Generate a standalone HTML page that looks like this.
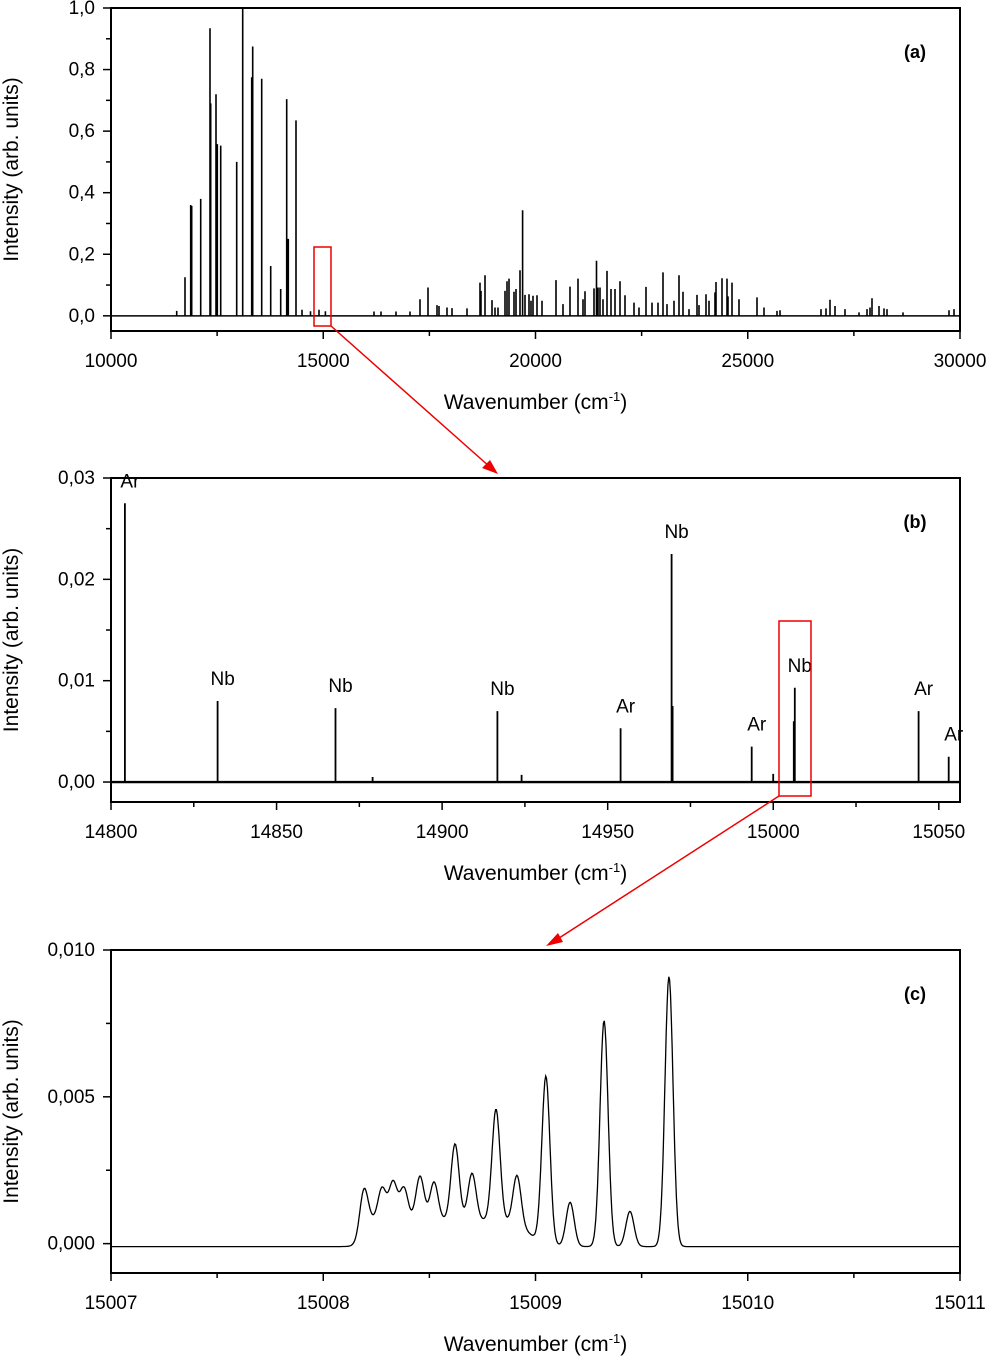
<!DOCTYPE html>
<html><head><meta charset="utf-8"><style>
body{margin:0;background:#fff}
svg{display:block;font-family:"Liberation Sans",sans-serif}
</style></head><body>
<svg id="c" width="988" height="1357" viewBox="0 0 988 1357" xmlns="http://www.w3.org/2000/svg"></svg>
<script>
// Panel (a) lines
const aPos=[11548,11743,11877,11901,12113,12332,12348,12473,12504,12584,12961,13102,13315,13338,13550,13762,13998,14139,14177,14358,14500,14700,14900,15050,
16195,16360,16714,17044,17279,17468,17680,17727,17915,18033,18386,18692,18716,18810,18975,19046,19117,19281,19328,19376,19493,19540,19635,19696,19753,19847,19894,19941,20035,20153,20483,20648,20813,21001,21119,21166,21378,21437,21472,21519,21590,21684,21779,21873,21991,22108,22320,22438,22603,22745,22886,23004,23098,23263,23381,23475,23617,23805,23852,24017,24088,24228,24252,24393,24511,24535,24629,24794,25218,25383,25689,25759,26725,26843,26937,27055,27291,27621,27809,27880,27927,28092,28210,28281,28657,29741,29859];
const aInt=[0.016,0.125,0.36,0.357,0.38,0.934,0.69,0.72,0.558,0.553,0.50,1.0,0.775,0.875,0.77,0.162,0.087,0.704,0.25,0.635,0.02,0.015,0.02,0.015,
0.014,0.014,0.014,0.014,0.054,0.092,0.035,0.032,0.027,0.025,0.024,0.108,0.081,0.132,0.051,0.027,0.027,0.081,0.112,0.121,0.078,0.087,0.148,0.343,0.068,0.070,0.049,0.065,0.067,0.049,0.116,0.038,0.095,0.121,0.054,0.080,0.089,0.179,0.092,0.092,0.054,0.146,0.087,0.087,0.112,0.067,0.043,0.027,0.094,0.043,0.043,0.141,0.038,0.049,0.132,0.078,0.022,0.068,0.035,0.070,0.049,0.076,0.110,0.122,0.121,0.063,0.108,0.054,0.060,0.027,0.016,0.018,0.022,0.024,0.052,0.032,0.022,0.011,0.022,0.027,0.057,0.032,0.024,0.022,0.011,0.018,0.022];
const aXTicks=[10000,15000,20000,25000,30000];
const aYTicks=["0,0","0,2","0,4","0,6","0,8","1,0"];
// Panel (b) lines
const bPos=[14804.2,14832.2,14867.8,14916.7,14953.9,14969.3,14969.6,14993.5,15006.5,15006.2,15043.9,15053.0,14879,14924,15000];
const bInt=[0.0275,0.008,0.0073,0.007,0.0053,0.0225,0.0075,0.0035,0.0093,0.006,0.007,0.0025,0.0005,0.0007,0.0008];
const bLabels=["Ar","Nb","Nb","Nb","Ar","Nb","","Ar","Nb","","Ar","Ar","","",""];
const bXTicks=[14800,14850,14900,14950,15000,15050];
const bYTicks=["0,00","0,01","0,02","0,03"];
// Panel (c) peaks
const cCenters=[15008.192,15008.277,15008.329,15008.380,15008.456,15008.522,15008.621,15008.701,15008.814,15008.913,15009.049,15009.163,15009.323,15009.445,15009.629];
const cAmps=[0.0012,0.0011,0.0013,0.0011,0.0015,0.0013,0.0026,0.0016,0.0038,0.0017,0.0057,0.0015,0.0077,0.0012,0.0092];
const cXTicks=[15007,15008,15009,15010,15011];
const cYTicks=["0,000","0,005","0,010"];

const S=document.getElementById('c');const NS='http://www.w3.org/2000/svg';
function mk(t,a,p){const e=document.createElementNS(NS,t);for(const k in a)e.setAttribute(k,a[k]);(p||S).appendChild(e);return e;}
function txt(x,y,s,o){const e=mk('text',Object.assign({x:x,y:y,'font-size':19,'text-anchor':'middle',fill:'#000'},o||{}));e.textContent=s;return e;}

function panel(id,L,R,T,B,xmin,xmax,ymin,ymax){
  const g=mk('g',{});
  return {g:g,x:v=>L+(v-xmin)/(xmax-xmin)*(R-L),y:v=>B-(v-ymin)/(ymax-ymin)*(B-T),L,R,T,B};
}
function frame(P,xt,xminor,yt,yvals,yminor,xtitle,ytitle,tag,tx){
  const f=mk('rect',{x:P.L,y:P.T,width:P.R-P.L,height:P.B-P.T,fill:'none',stroke:'#000','stroke-width':2},P.g);
  
  xt.forEach(v=>{const X=P.x(v);mk('line',{x1:X,x2:X,y1:P.B,y2:P.B+8,stroke:'#000','stroke-width':1.5},P.g);
    const t=txt(X,P.B+36,String(v),{});P.g.appendChild(t);});
  xminor.forEach(v=>{const X=P.x(v);mk('line',{x1:X,x2:X,y1:P.B,y2:P.B+5,stroke:'#000','stroke-width':1.5},P.g);});
  yvals.forEach((v,i)=>{const Y=P.y(v);mk('line',{x1:P.L-8,x2:P.L,y1:Y,y2:Y,stroke:'#000','stroke-width':1.5},P.g);
    const t=txt(P.L-16,Y+6,yt[i],{'text-anchor':'end'});P.g.appendChild(t);});
  yminor.forEach(v=>{const Y=P.y(v);mk('line',{x1:P.L-5,x2:P.L,y1:Y,y2:Y,stroke:'#000','stroke-width':1.5},P.g);});
  const xt2=mk('text',{x:(P.L+P.R)/2,y:P.B+78,'font-size':21,'text-anchor':'middle'},P.g);
  xt2.innerHTML='Wavenumber (cm<tspan dy="-8" font-size="13">-1</tspan><tspan dy="8">)</tspan>';
  
  const cy=(P.T+P.B)/2;
  const yt2=mk('text',{x:18,y:cy,'font-size':21,'text-anchor':'middle',transform:'rotate(-90 18 '+cy+')'},P.g);
  yt2.textContent=ytitle;
  const tg=txt(tx,P.T+50,tag,{'font-weight':'bold','font-size':18});
  P.g.appendChild(tg);
}
const yT='Intensity (arb. units)';
// Panel A
const A=panel('a',111,960,8,331,10000,30000,-0.0493,1.0);
let d='';aPos.forEach((v,i)=>{const X=A.x(v).toFixed(1);d+='M'+X+' '+A.y(0)+'V'+A.y(aInt[i]).toFixed(1);});
mk('line',{x1:A.x(10000),x2:A.x(30000),y1:A.y(0),y2:A.y(0),stroke:'#000','stroke-width':1.5},A.g);
const pa=mk('path',{d:d,stroke:'#000','stroke-width':1.6,fill:'none'},A.g);

frame(A,aXTicks,[12500,17500,22500,27500],aYTicks,[0,0.2,0.4,0.6,0.8,1.0],[0.1,0.3,0.5,0.7,0.9],'',yT,'(a)',915);
// Panel B
const B=panel('b',111,960,478,802,14800,15056.4,-0.00197,0.03);
d='';bPos.forEach((v,i)=>{const X=B.x(v).toFixed(1);d+='M'+X+' '+B.y(0)+'V'+B.y(bInt[i]).toFixed(1);});
mk('line',{x1:B.L,x2:B.R,y1:B.y(0),y2:B.y(0),stroke:'#000','stroke-width':2.4},B.g);
const pb=mk('path',{d:d,stroke:'#000','stroke-width':1.8,fill:'none'},B.g);

bPos.forEach((v,i)=>{if(!bLabels[i])return;const t=txt(B.x(v)+5,B.y(bInt[i])-16,bLabels[i],{'font-size':19});
  B.g.appendChild(t);});
frame(B,bXTicks,[14825,14875,14925,14975,15025],bYTicks,[0,0.01,0.02,0.03],[0.005,0.015,0.025],'',yT,'(b)',915);
// Panel C
const C=panel('c',111,960,950,1273,15007,15011,-0.001,0.010);
const sg=z=>1/(1+Math.exp(-z));
let pts=[];for(let v=15007;v<=15011.0001;v+=0.004){let s=-0.0001;cCenters.forEach((c,i)=>{s+=cAmps[i]*Math.exp(-Math.pow((v-c)/0.019,2)/2);});
 s+=0.0009*sg((v-15008.17)/0.012)*sg((15008.97-v)/0.04); pts.push(C.x(v).toFixed(1)+','+C.y(s).toFixed(1));}
const pc=mk('polyline',{points:pts.join(' '),stroke:'#000','stroke-width':1.3,fill:'none'},C.g);

frame(C,cXTicks,[15007.5,15008.5,15009.5,15010.5],cYTicks,[0,0.005,0.010],[0.0025,0.0075],'',yT,'(c)',915);
// Zoom boxes and arrows
const z=mk('g',{});
mk('rect',{x:314,y:247,width:17,height:79,fill:'none',stroke:'#e00','stroke-width':1.5},z);
mk('rect',{x:779,y:621,width:32,height:175,fill:'none',stroke:'#e00','stroke-width':1.5},z);
mk('line',{x1:331,y1:326,x2:490,y2:467,stroke:'#e00','stroke-width':1.5},z);
mk('polygon',{points:'498,474 482,468 490,460',fill:'#e00'},z);
mk('line',{x1:779,y1:796,x2:556,y2:940,stroke:'#e00','stroke-width':1.5},z);
mk('polygon',{points:'546,946 558,933 563,942',fill:'#e00'},z);
</script>
</body></html>
